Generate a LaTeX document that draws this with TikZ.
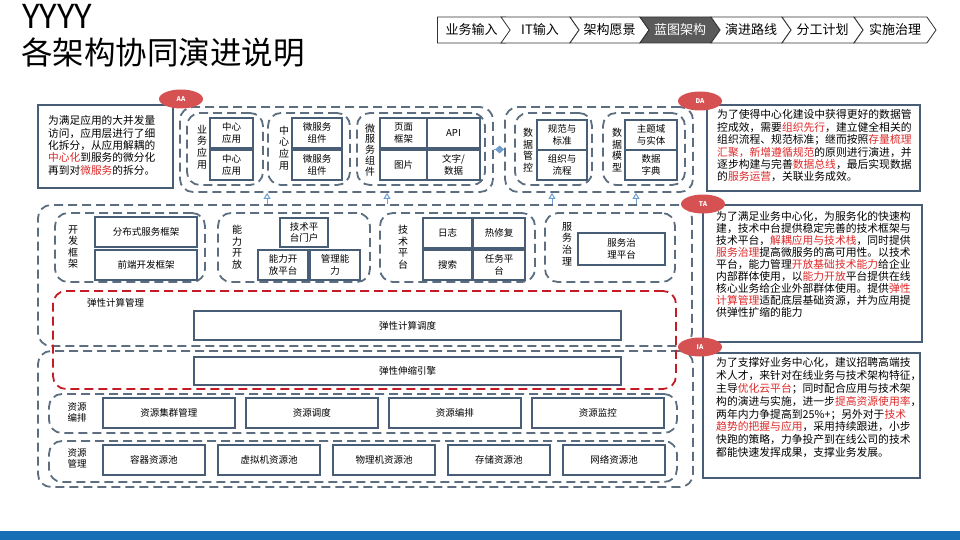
\documentclass[tikz,border=0pt]{standalone}
\usepackage{fontspec}
\setmainfont{Noto Sans CJK SC}
\usepackage{tikz}
\usetikzlibrary{shapes.geometric,shapes.symbols,arrows.meta}

\definecolor{dashgray}{RGB}{92,110,128}
\definecolor{boxblue}{RGB}{72,94,118}
\definecolor{elasticred}{RGB}{196,28,38}
\definecolor{tagred}{RGB}{214,82,82}
\definecolor{hotred}{RGB}{222,40,40}
\definecolor{linkblue}{RGB}{110,158,206}
\definecolor{crumbdark}{RGB}{90,90,90}
\definecolor{barblue}{RGB}{24,110,180}

\newcommand{\hot}[1]{\textcolor{hotred}{#1}}

\tikzset{
    zone/.style={draw=dashgray, line width=1.8pt, dash pattern=on 9pt off 5pt, rounded corners=13pt, inner sep=0},
    redzone/.style={zone, draw=elasticred},
    part/.style={draw=boxblue, line width=2pt, fill=white, inner sep=0, align=center, font=\fontsize{9.5}{11.5}\selectfont},
    vlabel/.style={inner sep=0, align=center, font=\fontsize{10}{11.6}\selectfont},
    note/.style={draw=boxblue, line width=1.4pt, inner sep=0},
    notetext/.style={inner sep=0, align=left, anchor=north west, font=\fontsize{10.8}{12.4}\selectfont},
    tag/.style={ellipse, fill=tagred, text=white, inner sep=0, minimum width=44pt, minimum height=19pt, font=\fontsize{6.5}{7}\selectfont\bfseries},
    crumb/.style={signal, signal to=east, signal from=west, signal pointer angle=110, draw=black!80, line width=0.8pt, fill=white, minimum height=26pt, inner sep=0, font=\fontsize{13}{13}\selectfont},
    crumbon/.style={crumb, fill=crumbdark, text=white},
    uparrow/.style={draw=linkblue, line width=1pt, -{Triangle[open, length=6pt, width=7pt]}},
    dlink/.style={draw=linkblue, line width=1pt, -{Diamond[length=9pt, width=8pt, fill=linkblue]}},
}

\begin{document}
\begin{tikzpicture}[x=1pt, y=-1pt]
    \useasboundingbox (0,0) rectangle (960,540);

    \node[anchor=base west, inner sep=0, font=\fontsize{33}{33}\selectfont] (yy) at (22,29) {YYYY};
    \node[anchor=base west, inner sep=0, font=\fontsize{31.5}{31.5}\selectfont] (title) at (21,65) {各架构协同演进说明};

    \node[crumb, signal from=nowhere, minimum width=77pt] (c1) at (471.5,30) {业务输入};
    \node[crumb, minimum width=78pt] (c2) at (540,30) {IT输入};
    \node[crumb, minimum width=79pt] (c3) at (609.5,30) {架构愿景};
    \node[crumbon, minimum width=80pt] (c4) at (680,30) {蓝图架构};
    \node[crumb, minimum width=80pt] (c5) at (751,30) {演进路线};
    \node[crumb, minimum width=81pt] (c6) at (822.5,30) {分工计划};
    \node[crumb, minimum width=82pt] (c7) at (895,30) {实施治理};

    \node[zone, minimum width=313pt, minimum height=85pt] (app) at (336.5,149.5) {};
    \node[zone, minimum width=76pt, minimum height=72pt] (bizapp) at (225,149) {};
    \node[vlabel] (bizlbl) at (202,147) {业\\务\\应\\用};
    \node[part, minimum width=43pt, minimum height=30pt] (ca1) at (231.5,133) {中心\\应用};
    \node[part, minimum width=43pt, minimum height=30pt] (ca2) at (231.5,165) {中心\\应用};
    \node[zone, minimum width=82pt, minimum height=72pt] (ctrapp) at (309,149) {};
    \node[vlabel] (ctrlbl) at (284,148) {中\\心\\应\\用};
    \node[part, minimum width=50pt, minimum height=30pt] (ms1) at (317,133) {微服务\\组件};
    \node[part, minimum width=50pt, minimum height=30pt] (ms2) at (317,165) {微服务\\组件};
    \node[zone, minimum width=128pt, minimum height=72pt] (mscomp) at (421,149) {};
    \node[vlabel, font=\fontsize{10}{10.8}\selectfont] (mslbl) at (370,150) {微\\服\\务\\组\\件};
    \node[part, minimum width=47pt, minimum height=30pt] (pg) at (403.5,133) {页面\\框架};
    \node[part, minimum width=53pt, minimum height=30pt] (api) at (453.5,133) {API};
    \node[part, minimum width=47pt, minimum height=30pt] (img) at (403.5,165) {图片};
    \node[part, minimum width=53pt, minimum height=30pt] (txt) at (453.5,165) {文字/\\数据};

    \node[zone, minimum width=188pt, minimum height=85pt] (data) at (599,149.5) {};
    \node[zone, minimum width=77pt, minimum height=72pt] (gov) at (553.5,149) {};
    \node[vlabel] (govlbl) at (528,150) {数\\据\\管\\控};
    \node[part, minimum width=50pt, minimum height=30pt] (std) at (562,135) {规范与\\标准};
    \node[part, minimum width=50pt, minimum height=30pt] (org) at (562,165) {组织与\\流程};
    \node[zone, minimum width=82pt, minimum height=72pt] (model) at (644,149) {};
    \node[vlabel] (modlbl) at (617,150) {数\\据\\模\\型};
    \node[part, minimum width=52pt, minimum height=30pt] (ent) at (651,135) {主题域\\与实体};
    \node[part, minimum width=52pt, minimum height=30pt] (dict) at (651,165) {数据\\字典};

    \node[zone, minimum width=654pt, minimum height=141pt] (ta) at (365,275.5) {};
    \node[zone, minimum width=150pt, minimum height=69pt] (devfw) at (130,247.5) {};
    \node[vlabel] (devlbl) at (73,247) {开\\发\\框\\架};
    \node[part, minimum width=102pt, minimum height=30pt] (dist) at (146,232) {分布式服务框架};
    \node[part, minimum width=102pt, minimum height=30pt] (front) at (146,265) {前端开发框架};
    \node[zone, minimum width=152pt, minimum height=69pt] (capopen) at (294,247.5) {};
    \node[vlabel] (caplbl) at (237,247) {能\\力\\开\\放};
    \node[part, minimum width=48pt, minimum height=29pt] (portal) at (304,232.5) {技术平\\台门户};
    \node[part, minimum width=50pt, minimum height=30pt] (capplat) at (283,265) {能力开\\放平台};
    \node[part, minimum width=50pt, minimum height=30pt] (mgmt) at (335,265) {管理能\\力};
    \node[zone, minimum width=155pt, minimum height=69pt] (techplat) at (457.5,247.5) {};
    \node[vlabel] (techlbl) at (403,247) {技\\术\\平\\台};
    \node[part, minimum width=49pt, minimum height=30pt] (log) at (447.5,233) {日志};
    \node[part, minimum width=52pt, minimum height=30pt] (hotfix) at (499,233) {热修复};
    \node[part, minimum width=49pt, minimum height=30pt] (search) at (447.5,265) {搜索};
    \node[part, minimum width=52pt, minimum height=30pt] (task) at (499,265) {任务平\\台};
    \node[zone, minimum width=130pt, minimum height=69pt] (svcgov) at (610,247.5) {};
    \node[vlabel] (svclbl) at (567,244) {服\\务\\治\\理};
    \node[part, minimum width=87pt, minimum height=32pt] (govplat) at (621.5,249) {服务治\\理平台};

    \node[zone, minimum width=655pt, minimum height=136pt] (ia) at (365.5,419) {};
    \node[redzone, minimum width=623pt, minimum height=98pt] (elastic) at (364.5,340) {};
    \node[anchor=west, inner sep=0, font=\fontsize{9.5}{11}\selectfont] (elalbl) at (87,303) {弹性计算管理};
    \node[part, minimum width=427pt, minimum height=29pt] (sched) at (407.5,325.5) {弹性计算调度};
    \node[part, minimum width=427pt, minimum height=28pt] (engine) at (407.5,371) {弹性伸缩引擎};

    \node[zone, minimum width=628pt, minimum height=39pt] (orch) at (363,413.5) {};
    \node[vlabel, font=\fontsize{9.5}{11}\selectfont] (orchlbl) at (77,412) {资源\\编排};
    \node[part, minimum width=132pt, minimum height=30pt] (cluster) at (168.75,413) {资源集群管理};
    \node[part, minimum width=132pt, minimum height=30pt] (rsched) at (311.75,413) {资源调度};
    \node[part, minimum width=132pt, minimum height=30pt] (rorch) at (454.75,413) {资源编排};
    \node[part, minimum width=132pt, minimum height=30pt] (rmon) at (597.75,413) {资源监控};
    \node[zone, minimum width=628pt, minimum height=41pt] (rmgmt) at (363,461.5) {};
    \node[vlabel, font=\fontsize{9.5}{11}\selectfont] (rmlbl) at (77,458) {资源\\管理};
    \node[part, minimum width=102pt, minimum height=30pt] (pool) at (153.75,460) {容器资源池};
    \node[part, minimum width=102pt, minimum height=30pt] (vm) at (269,460) {虚拟机资源池};
    \node[part, minimum width=102pt, minimum height=30pt] (phys) at (384,460) {物理机资源池};
    \node[part, minimum width=102pt, minimum height=30pt] (stor) at (498.75,460) {存储资源池};
    \node[part, minimum width=102pt, minimum height=30pt] (net) at (614,460) {网络资源池};

    \draw[dlink] (app.east) -- (data.west);
    \draw[uparrow] (ta.north -| ctrapp.west) -- (app.south -| ctrapp.west);
    \draw[uparrow] ([xshift=8pt]ta.north -| pg.west) -- ([xshift=8pt]app.south -| pg.west);
    \draw[uparrow] ([xshift=-10pt]ta.north -| std.center) -- ([xshift=-10pt]data.south -| std.center);
    \draw[uparrow] ([xshift=12pt]ta.north -| ent.west) -- ([xshift=12pt]data.south -| ent.west);

    \node[note, minimum width=135pt, minimum height=83pt] (aanote) at (105.5,146.5) {};
    \node[notetext, font=\fontsize{10.7}{12.3}\selectfont] (aatext) at (48,115.6) {为满足应用的大并发量\\
        访问，应用层进行了细\\
        化拆分，从应用解耦的\\
        \hot{中心化}到服务的微分化\\
        再到对\hot{微服务}的拆分。};

    \node[note, minimum width=213pt, minimum height=86pt] (danote) at (813.5,148) {};
    \node[notetext] (datext) at (717,109.6) {为了使得中心化建设中获得更好的数据管\\
        控成效，需要\hot{组织先行}，建立健全相关的\\
        组织流程、规范标准；继而按照\hot{存量梳理}\\
        \hot{汇聚，新增遵循规范}的原则进行演进，并\\
        逐步构建与完善\hot{数据总线}，最后实现数据\\
        的\hot{服务运营}，关联业务成效。};

    \node[note, minimum width=219pt, minimum height=137pt] (tanote) at (812.5,273.5) {};
    \node[notetext, font=\fontsize{10.8}{11.9}\selectfont] (tatext) at (716,211.6) {为了满足业务中心化，为服务化的快速构\\
        建，技术中台提供稳定完善的技术框架与\\
        技术平台，\hot{解耦应用与技术栈}，同时提供\\
        \hot{服务治理}提高微服务的高可用性。以技术\\
        平台，能力管理\hot{开放基础技术能力}给企业\\
        内部群体使用，以\hot{能力开放}平台提供在线\\
        核心业务给企业外部群体使用。提供\hot{弹性}\\
        \hot{计算管理}适配底层基础资源，并为应用提\\
        供弹性扩缩的能力};

    \node[note, minimum width=217pt, minimum height=125pt] (ianote) at (811.5,415.5) {};
    \node[notetext, font=\fontsize{10.8}{12.8}\selectfont] (iatext) at (716,357.5) {为了支撑好业务中心化，建议招聘高端技\\
        术人才，来针对在线业务与技术架构特征，\\
        主导\hot{优化云平台}；同时配合应用与技术架\\
        构的演进与实施，进一步\hot{提高资源使用率}，\\
        两年内力争提高到25\%+；另外对于\hot{技术}\\
        \hot{趋势的把握与应用}，采用持续跟进，小步\\
        快跑的策略，力争投产到在线公司的技术\\
        都能快速发挥成果，支撑业务发展。};

    \node[tag] (aa) at (181,99) {AA};
    \node[tag] (da) at (700,101) {DA};
    \node[tag] (tag-ta) at (703,204) {TA};
    \node[tag] (tag-ia) at (700,347) {IA};

    \fill[barblue] (0,531) rectangle (960,540);
\end{tikzpicture}
\end{document}
